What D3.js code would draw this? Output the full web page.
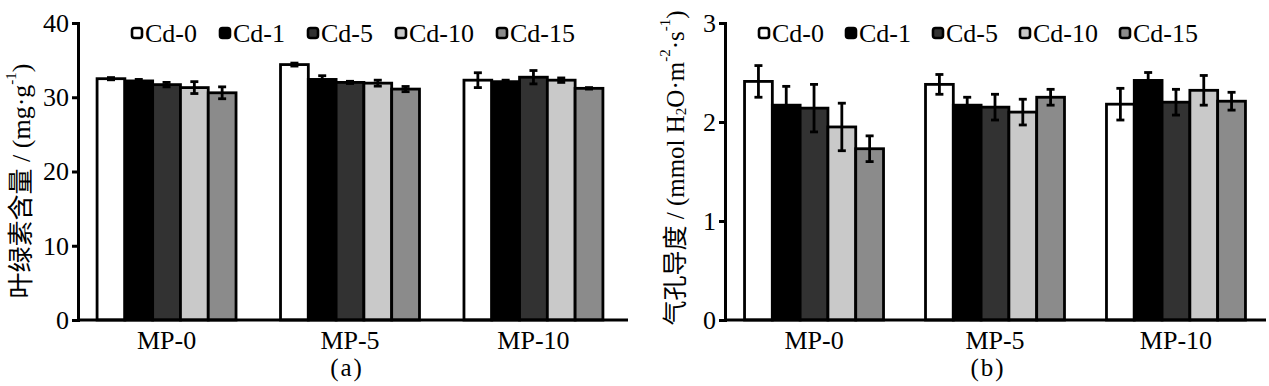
<!DOCTYPE html>
<html>
<head>
<meta charset="utf-8">
<script src="https://cdn.jsdelivr.net/npm/d3@7"></script>
<style>
  body { margin: 0; background: #fff; }
  text { font-family: "Liberation Serif", "Noto Sans CJK SC", serif; fill: #000; }
</style>
</head>
<body>
<script>
const width = 1269;
const height = 386;

const groups = ["MP-0", "MP-5", "MP-10"];
const series = ["Cd-0", "Cd-1", "Cd-5", "Cd-10", "Cd-15"];
const seriesColors = ["#ffffff", "#000000", "#323232", "#c9c9c9", "#8b8b8b"];

// (a) chlorophyll content, mg/g
const chlTicks = [0, 10, 20, 30, 40];
const chlMean = [
  [32.5, 32.2, 31.7, 31.3, 30.6],
  [34.4, 32.4, 32.0, 31.9, 31.1],
  [32.3, 32.1, 32.7, 32.3, 31.2],
];
const chlErr = [
  [0.15, 0.2, 0.3, 0.8, 0.8],
  [0.2, 0.5, 0.15, 0.4, 0.35],
  [1.0, 0.2, 0.9, 0.3, 0.1],
];

// (b) stomatal conductance
const gsTicks = [0, 1, 2, 3];
const gsMean = [
  [2.41, 2.17, 2.14, 1.95, 1.73],
  [2.38, 2.17, 2.15, 2.10, 2.25],
  [2.18, 2.42, 2.20, 2.32, 2.21],
];
const gsErr = [
  [0.16, 0.19, 0.24, 0.24, 0.13],
  [0.10, 0.08, 0.13, 0.13, 0.08],
  [0.16, 0.08, 0.13, 0.15, 0.09],
];

const svg = d3
  .select("body")
  .append("svg")
  .attr("width", width)
  .attr("height", height);

function drawPanel(p) {
  const g = svg.append("g");
  const y = d3.scaleLinear().domain([0, p.yMax]).range([320, 23]);
  const x0 = d3
    .scaleBand()
    .domain(groups)
    .range([p.left, p.bandEnd])
    .paddingInner(p.padIn)
    .paddingOuter(p.padOut);
  const x1 = d3.scaleBand().domain(series).range([0, x0.bandwidth()]);

  const rows = [];
  groups.forEach((grp, gi) => {
    series.forEach((s, si) => {
      rows.push({ grp, s, si, v: p.mean[gi][si], e: p.err[gi][si] });
    });
  });

  g.selectAll("rect.bar")
    .data(rows)
    .enter()
    .append("rect")
    .attr("class", "bar")
    .attr("x", (d) => x0(d.grp) + x1(d.s))
    .attr("y", (d) => y(d.v))
    .attr("width", x1.bandwidth())
    .attr("height", (d) => y(0) - y(d.v))
    .attr("fill", (d) => seriesColors[d.si])
    .attr("stroke", "#000")
    .attr("stroke-width", 2.8);

  const err = g
    .selectAll("g.err")
    .data(rows)
    .enter()
    .append("g")
    .attr("class", "err")
    .attr("stroke", "#000")
    .attr("stroke-width", 2.8);
  const cx = (d) => x0(d.grp) + x1(d.s) + x1.bandwidth() / 2;
  err.append("line")
    .attr("x1", cx).attr("x2", cx)
    .attr("y1", (d) => y(d.v + d.e))
    .attr("y2", (d) => y(d.v - d.e));
  err.append("line")
    .attr("x1", (d) => cx(d) - 4).attr("x2", (d) => cx(d) + 4)
    .attr("y1", (d) => y(d.v + d.e)).attr("y2", (d) => y(d.v + d.e));
  err.append("line")
    .attr("x1", (d) => cx(d) - 4).attr("x2", (d) => cx(d) + 4)
    .attr("y1", (d) => y(d.v - d.e)).attr("y2", (d) => y(d.v - d.e));

  // x axis line
  g.append("line")
    .attr("x1", p.left)
    .attr("x2", p.axisEnd)
    .attr("y1", y(0))
    .attr("y2", y(0))
    .attr("stroke", "#000")
    .attr("stroke-width", 3);

  const yAxis = g
    .append("g")
    .attr("transform", "translate(" + p.left + ",0)")
    .call(
      d3.axisLeft(y)
        .tickValues(p.ticks)
        .tickFormat(d3.format("d"))
        .tickSize(6)
        .tickSizeOuter(5)
        .tickPadding(3)
    );
  yAxis.selectAll("path, line").attr("stroke", "#000").attr("stroke-width", 3);
  yAxis
    .selectAll("text")
    .attr("font-size", "26px")
    .style("font-family", "'Liberation Serif', serif")
    .attr("fill", "#000");

  g.selectAll("text.grp")
    .data(groups)
    .enter()
    .append("text")
    .attr("class", "grp")
    .attr("x", (d) => x0(d) + x0.bandwidth() / 2)
    .attr("y", 349)
    .attr("text-anchor", "middle")
    .attr("font-size", "26px")
    .text((d) => d);

  g.append("text")
    .attr("x", p.letterX)
    .attr("y", 376)
    .attr("text-anchor", "middle")
    .attr("font-size", "25px")
    .attr("letter-spacing", "2px")
    .text(p.letter);

  // y title (rotated), built from parts with super/subscripts
  const title = g
    .append("text")
    .attr("transform", "translate(" + p.titleX + "," + p.titleY + ") rotate(-90)")
    .attr("text-anchor", "middle")
    .attr("dominant-baseline", "central")
    .attr("font-size", p.titleSize);
  p.title.forEach((part) => {
    const t = title.append("tspan").text(part.t);
    if (part.sup) t.attr("font-size", "15px").attr("dy", -10);
    if (part.sub) t.attr("font-size", "15px").attr("dy", 6);
    if (part.reset) t.attr("dy", part.reset);
  });

  // legend
  let lx = p.legendX;
  series.forEach((s, i) => {
    g.append("rect")
      .attr("x", lx)
      .attr("y", 28)
      .attr("width", 10)
      .attr("height", 10)
      .attr("rx", 2.5)
      .attr("fill", seriesColors[i])
      .attr("stroke", "#000")
      .attr("stroke-width", 2.6);
    const t = g
      .append("text")
      .attr("x", lx + 13)
      .attr("y", 42)
      .attr("font-size", "26px")
      .text(s);
    lx += 13 + t.node().getComputedTextLength() + p.legendGap;
  });
}

drawPanel({
  left: 78,
  bandEnd: 622,
  axisEnd: 628,
  padIn: 0.2425,
  padOut: 0.104,
  yMax: 40,
  ticks: chlTicks,
  mean: chlMean,
  err: chlErr,
  letter: "(a)",
  letterX: 347,
  titleX: 21,
  titleY: 181,
  titleSize: "26px",
  legendX: 132,
  legendGap: 23,
  title: [
    { t: "叶绿素含量 / (mg·g" },
    { t: "-1", sup: true },
    { t: ")", reset: 10 },
  ],
});

drawPanel({
  left: 725,
  bandEnd: 1265,
  axisEnd: 1266,
  padIn: 0.232,
  padOut: 0.108,
  yMax: 3,
  ticks: gsTicks,
  mean: gsMean,
  err: gsErr,
  letter: "(b)",
  letterX: 988,
  titleX: 675,
  titleY: 168,
  titleSize: "25px",
  legendX: 759,
  legendGap: 22,
  title: [
    { t: "气孔导度 / (mmol H" },
    { t: "2", sub: true },
    { t: "O·m", reset: -6 },
    { t: "-2", sup: true },
    { t: "·s", reset: 10 },
    { t: "-1", sup: true },
    { t: ")", reset: 10 },
  ],
});
</script>
</body>
</html>
